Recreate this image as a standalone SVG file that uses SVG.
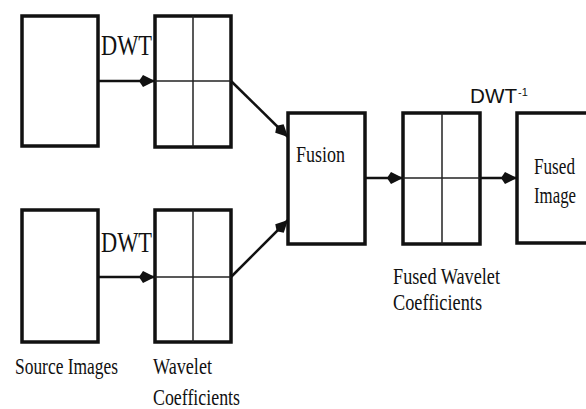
<svg xmlns="http://www.w3.org/2000/svg" width="586" height="409" viewBox="0 0 586 409">
<style>
.box{fill:#fff;stroke:#111;stroke-width:3.5}
.div{stroke:#222;stroke-width:1.5;fill:none}
.conn{stroke:#111;stroke-width:2.5;fill:none}
.serif{font-family:"Liberation Serif","Times New Roman",serif;fill:#111}
.sans{font-family:"Liberation Sans",Arial,sans-serif;fill:#111}
</style>
<defs>
<marker id="ah" markerUnits="userSpaceOnUse" markerWidth="18" markerHeight="14" refX="16" refY="7" orient="auto">
<path d="M0,7 L4,1 L16,7 L4,13 Z" fill="#111"/>
</marker>
</defs>
<rect width="586" height="409" fill="#fff"/>
<g id="source1"><rect class="box" x="22" y="16" width="76" height="130"/></g>
<g id="source2"><rect class="box" x="22" y="210" width="76" height="132"/></g>
<g id="wavelet1"><rect class="box" x="155" y="16" width="76" height="131"/><line class="div" x1="193" y1="16" x2="193" y2="147"/><line class="div" x1="155" y1="81" x2="231" y2="81"/></g>
<g id="wavelet2"><rect class="box" x="155" y="210" width="76" height="132"/><line class="div" x1="193" y1="210" x2="193" y2="342"/><line class="div" x1="155" y1="277" x2="231" y2="277" stroke="#666"/></g>
<g id="fusion"><rect class="box" x="288" y="113" width="77" height="131"/><text class="serif" x="296" y="162" font-size="24" textLength="49" lengthAdjust="spacingAndGlyphs">Fusion</text></g>
<g id="fusedwavelet"><rect class="box" x="403" y="113" width="77" height="131"/><line class="div" x1="442" y1="113" x2="442" y2="244"/><line class="div" x1="403" y1="178" x2="480" y2="178"/></g>
<g id="fusedimage"><path class="box" d="M586,113 H517 V243 H586"/><text class="serif" x="534" y="174" font-size="24" textLength="41" lengthAdjust="spacingAndGlyphs">Fused</text><text class="serif" x="534" y="203" font-size="24" textLength="42" lengthAdjust="spacingAndGlyphs">Image</text></g>
<g id="connectors">
<line class="conn" x1="98" y1="81" x2="155" y2="81" marker-end="url(#ah)"/>
<line class="conn" x1="98" y1="277" x2="155" y2="277" marker-end="url(#ah)"/>
<line class="conn" x1="231" y1="81" x2="288" y2="137" marker-end="url(#ah)"/>
<line class="conn" x1="231" y1="277" x2="288" y2="220" marker-end="url(#ah)"/>
<line class="conn" x1="365" y1="178" x2="403" y2="178" marker-end="url(#ah)"/>
<line class="conn" x1="480" y1="178" x2="517" y2="178" marker-end="url(#ah)"/>
</g>
<g id="labels">
<text class="serif" x="101" y="55" font-size="29" textLength="51" lengthAdjust="spacingAndGlyphs">DWT</text>
<text class="serif" x="101" y="252" font-size="29" textLength="51" lengthAdjust="spacingAndGlyphs">DWT</text>
<text class="sans" x="470" y="103" font-size="20" textLength="47" lengthAdjust="spacingAndGlyphs">DWT</text>
<text class="sans" x="518" y="96" font-size="11">-1</text>
<text class="serif" x="15" y="374" font-size="24" textLength="103" lengthAdjust="spacingAndGlyphs">Source Images</text>
<text class="serif" x="153" y="374" font-size="24" textLength="59" lengthAdjust="spacingAndGlyphs">Wavelet</text>
<text class="serif" x="153" y="405" font-size="24" textLength="87" lengthAdjust="spacingAndGlyphs">Coefficients</text>
<text class="serif" x="393" y="284" font-size="24" textLength="107" lengthAdjust="spacingAndGlyphs">Fused Wavelet</text>
<text class="serif" x="393" y="310" font-size="24" textLength="89" lengthAdjust="spacingAndGlyphs">Coefficients</text>
</g>
</svg>
